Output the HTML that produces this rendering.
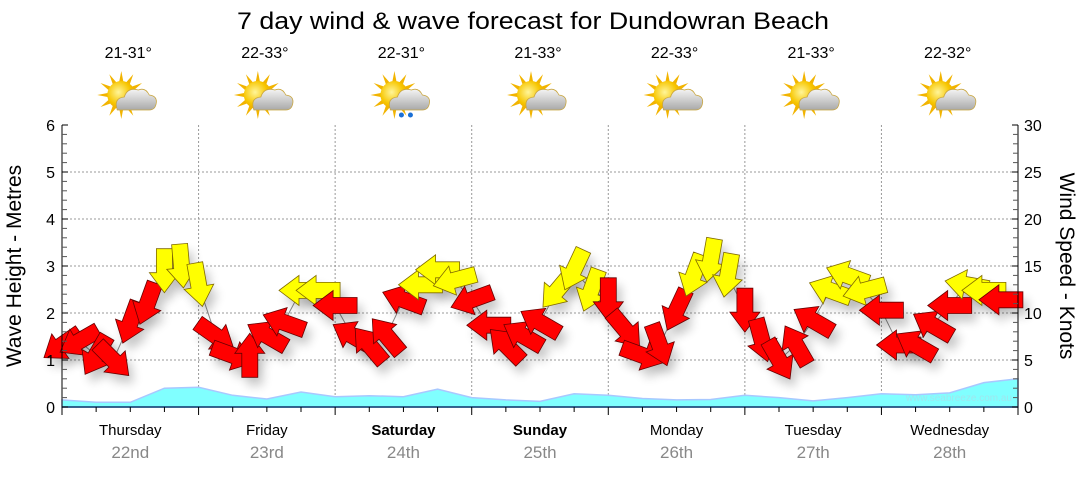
<!DOCTYPE html>
<html><head><meta charset="utf-8"><style>
body{margin:0;background:#fff;}
svg text{font-family:"Liberation Sans","DejaVu Sans",sans-serif;}
</style></head><body>
<svg id="chart" width="1080" height="475" viewBox="0 0 1080 475" xmlns="http://www.w3.org/2000/svg">
<defs>
<filter id="sh" x="-50%" y="-50%" width="200%" height="200%"><feGaussianBlur stdDeviation="5"/></filter>
<radialGradient id="sun" cx="0.4" cy="0.4" r="0.7"><stop offset="0" stop-color="#fff59a"/><stop offset="0.6" stop-color="#f7c600"/><stop offset="1" stop-color="#e89a00"/></radialGradient>
<linearGradient id="cloud" x1="0" y1="0" x2="0" y2="1"><stop offset="0" stop-color="#f4f4f4"/><stop offset="1" stop-color="#a9a9a9"/></linearGradient>
</defs>
<text x="533" y="29" font-size="24" text-anchor="middle" textLength="592" lengthAdjust="spacingAndGlyphs">7 day wind &amp; wave forecast for Dundowran Beach</text>
<g id="grid"></g>
<g id="waves"></g>
<g id="wind"></g>
<g id="axes"></g>
<g id="days"></g>
<text x="1012" y="401" font-size="10" fill="#9fe6ee" text-anchor="end">www.seabreeze.com.au</text>
<text transform="translate(21,266) rotate(-90)" font-size="21" text-anchor="middle">Wave Height - Metres</text>
<text transform="translate(1060,266) rotate(90)" font-size="21" text-anchor="middle">Wind Speed - Knots</text>
</svg>
<script>
const dayNames=["Thursday","Friday","Saturday","Sunday","Monday","Tuesday","Wednesday"];
const dayDates=["22nd","23rd","24th","25th","26th","27th","28th"];
const temps=["21-31°","22-33°","22-31°","21-33°","22-33°","21-33°","22-32°"];
const rainy=[false,false,true,false,false,false,false];
const waveHeights=[0.15,0.1,0.1,0.4,0.42,0.25,0.17,0.32,0.22,0.24,0.22,0.38,0.2,0.15,0.12,0.28,0.25,0.18,0.15,0.16,0.25,0.2,0.13,0.2,0.28,0.26,0.3,0.52,0.6];
const windSpeeds=[6.6,7,5.5,5,9,11,14.5,15,13,7.6,5.5,5.5,7.6,9,12.4,12.4,10.8,7.6,6.6,7.6,11.4,13,14.6,13.5,11.4,8.7,6.6,7.6,9,12.4,14.6,12.4,11.4,8.2,5.5,6.6,10.3,14,15.6,14,10.3,7.1,5,6.6,9.2,12.4,14,12.4,10.3,6.6,6.6,8.7,10.8,13,12.4,11.4];
const windDirs=[145,150,120,45,110,110,90,85,80,35,20,-90,-150,-160,180,180,180,-150,-130,-130,-160,180,180,165,160,180,-135,-150,-150,130,115,110,90,50,20,70,115,110,100,100,90,75,60,-120,-150,-160,-160,165,180,180,-150,-150,180,-170,180,180];
const leftTicks=["0","1","2","3","4","5","6"];
const rightTicks=["0","5","10","15","20","25","30"];

const NS="http://www.w3.org/2000/svg";
const X0=62,X1=1018,Y0=407,Y1=125;
const xT=h=>X0+(X1-X0)*h/168;
const yM=m=>Y0-(Y0-Y1)*m/6;
const yK=k=>Y0-(Y0-Y1)*k/30;
function mk(tag,attrs,parent){const e=document.createElementNS(NS,tag);for(const k in attrs)e.setAttribute(k,attrs[k]);parent.appendChild(e);return e;}
const grid=document.getElementById('grid'),axes=document.getElementById('axes'),days=document.getElementById('days'),waves=document.getElementById('waves'),wind=document.getElementById('wind');

for(let i=1;i<6;i++){const l=mk('line',{x1:X0,x2:X1,y1:yM(i),y2:yM(i),stroke:'#999','stroke-dasharray':'2,2'},grid);

}
for(let d=1;d<7;d++){const l=mk('line',{x1:xT(d*24),x2:xT(d*24),y1:Y1,y2:Y0,stroke:'#999','stroke-dasharray':'2,2'},grid);

}

let p='M'+X0+','+Y0;
waveHeights.forEach((v,i)=>{p+=' L'+xT(i*6).toFixed(1)+','+yM(v).toFixed(1);});
p+=' L'+X1+','+Y0+' Z';
const wa=mk('path',{d:p,fill:'#80ffff',stroke:'#a8c8ff','stroke-width':1.5},waves);



const pts=windSpeeds.map((s,i)=>[xT(i*3),yK(s)]);
const ln=mk('polyline',{points:pts.map(q=>q.join(',')).join(' '),fill:'none',stroke:'#888','stroke-width':1},wind);


const shape="M-22,-8 L2,-8 L2,-15 L22,0 L2,15 L2,8 L-22,8 Z";
const shadows=mk('g',{},wind);
windSpeeds.forEach((s,i)=>{const [x,y]=pts[i];
 mk('path',{d:shape,fill:'#000',opacity:0.22,filter:'url(#sh)',transform:`translate(${(x+5).toFixed(1)},${(y+8).toFixed(1)}) rotate(${windDirs[i]})`},shadows);
});
windSpeeds.forEach((s,i)=>{const [x,y]=pts[i];
 const g=mk('g',{transform:`translate(${x.toFixed(1)},${y.toFixed(1)}) rotate(${windDirs[i]})`},wind);
 
 
 mk('path',{d:shape,fill:s>=12?'#ffff00':'#ff0000',stroke:s>=12?'#806a00':'#600','stroke-width':0.8},g);
});

mk('line',{x1:X0,x2:X0,y1:Y1,y2:Y0,stroke:'#000'},axes);
mk('line',{x1:X1,x2:X1,y1:Y1,y2:Y0,stroke:'#000'},axes);
mk('line',{x1:X0,x2:X1,y1:Y0,y2:Y0,stroke:'#0b3a6a','stroke-width':1.5},axes);
for(let i=0;i<=30;i++){const m=i*0.2;mk('line',{x1:X0,x2:X0+(i%5==0?6:5),y1:yM(m),y2:yM(m),stroke:i%5==0?'#000':'#555'},axes);}
leftTicks.forEach((t,i)=>{const e=mk('text',{x:X0-7,y:yM(i)+6,'font-size':16,'text-anchor':'end'},axes);e.textContent=t;

});
for(let k=0;k<=30;k++){mk('line',{x1:X1-(k%5==0?6:5),x2:X1,y1:yK(k),y2:yK(k),stroke:k%5==0?'#000':'#555'},axes);}
rightTicks.forEach((t,i)=>{const e=mk('text',{x:X1+6,y:yK(i*5)+6,'font-size':16},axes);e.textContent=t;

});
for(let h=0;h<=168;h+=6){mk('line',{x1:xT(h),x2:xT(h),y1:Y0,y2:Y0+(h%24==0?8:5),stroke:'#000'},axes);}

dayNames.forEach((n,d)=>{const cx=xT(d*24+12);
 const a=mk('text',{x:cx,y:435,'font-size':15,'text-anchor':'middle','font-weight':(d==2||d==3)?'bold':'normal'},days);a.textContent=n;
 
 
 const b=mk('text',{x:cx,y:458,'font-size':17,'text-anchor':'middle',fill:'#888'},days);b.textContent=dayDates[d];
 
 
 const t=mk('text',{x:cx-2,y:58,'font-size':16,'text-anchor':'middle'},days);t.textContent=temps[d];
 
 
 const ic=mk('g',{transform:`translate(${cx-9},95)`},days);
 
 
 for(let r=0;r<12;r++){const ang=r*30*Math.PI/180;mk('polygon',{points:`${(Math.cos(ang)*24).toFixed(1)},${(Math.sin(ang)*24).toFixed(1)} ${(Math.cos(ang+0.2)*12).toFixed(1)},${(Math.sin(ang+0.2)*12).toFixed(1)} ${(Math.cos(ang-0.2)*12).toFixed(1)},${(Math.sin(ang-0.2)*12).toFixed(1)}`,fill:'#f2b400'},ic);}
 mk('circle',{cx:0,cy:0,r:14,fill:'url(#sun)'},ic);
 mk('path',{d:'M-4,15 Q-8,3 3,2 Q6,-8 17,-5 Q24,-8 28,0 Q36,1 35,8 Q34,15 28,15 Z',fill:'url(#cloud)',stroke:'#c9a640','stroke-width':0.8},ic);
 if(rainy[d]){mk('circle',{cx:7,cy:20,r:2.5,fill:'#1a6fd6'},ic);mk('circle',{cx:16,cy:20,r:2.5,fill:'#1a6fd6'},ic);}
});
</script>
</body></html>
